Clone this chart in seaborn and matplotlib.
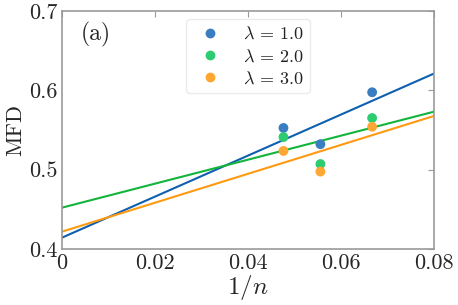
import numpy as np
import pandas as pd
import matplotlib
matplotlib.use("Agg")
import matplotlib.pyplot as plt
import seaborn as sns

# data
inv_n = [1 / 21, 1 / 18, 1 / 15]
mfd_l1 = [0.5525, 0.532, 0.5975]
mfd_l2 = [0.541, 0.507, 0.565]
mfd_l3 = [0.5235, 0.4975, 0.554]
labels = [r"$\lambda \,=\, 1.0$", r"$\lambda \,=\, 2.0$", r"$\lambda \,=\, 3.0$"]
dot_colors = ["#3a7dc0", "#2ecc71", "#ffa733"]
line_colors = ["#0f5fb0", "#12b43c", "#ff9a10"]

df = pd.DataFrame({
    "x": inv_n * 3,
    "y": mfd_l1 + mfd_l2 + mfd_l3,
    "lam": [labels[0]] * 3 + [labels[1]] * 3 + [labels[2]] * 3,
})

sns.set_style("white")
plt.rcParams["font.family"] = ["cmr10"]
plt.rcParams["mathtext.fontset"] = "cm"
plt.rcParams["axes.formatter.use_mathtext"] = True

fig, ax = plt.subplots(figsize=(4.58, 3.05), dpi=100)
ax.set_xlim(0, 0.08)
ax.set_ylim(0.4, 0.7)

# linear fits extended across the axis
for lab, lc in zip(labels, line_colors):
    sub = df[df["lam"] == lab]
    sns.regplot(data=sub, x="x", y="y", ax=ax, scatter=False, ci=None,
                truncate=False, color=lc, line_kws={"lw": 1.5})

sns.scatterplot(data=df, x="x", y="y", hue="lam", palette=dot_colors,
                s=50, edgecolor="none", ax=ax, zorder=3)

ax.set_xlim(0, 0.08)
ax.set_ylim(0.4, 0.7)
ax.set_xticks([0, 0.02, 0.04, 0.06, 0.08])
ax.set_xticklabels(["0", "0.02", "0.04", "0.06", "0.08"])
ax.set_yticks([0.4, 0.5, 0.6, 0.7])
ax.set_yticklabels(["0.4", "0.5", "0.6", "0.7"])
ax.tick_params(direction="in", top=True, right=True, length=4, color="#999999",
               labelsize=16, pad=3)
for sp in ax.spines.values():
    sp.set_color("#999999")
    sp.set_linewidth(1.2)

ax.set_xlabel(r"$1/n$", fontsize=18, labelpad=0)
ax.set_ylabel("MFD", fontsize=16, labelpad=3)
ax.text(0.05, 0.955, "(a)", transform=ax.transAxes, fontsize=17, va="top")

leg = ax.legend(loc="upper center", fontsize=13, frameon=True,
                handletextpad=0.8, borderpad=0.35, labelspacing=0.33,
                handlelength=2.0, borderaxespad=0,
                bbox_to_anchor=(0.5, 0.966))
leg.get_frame().set_edgecolor("#e6e6e6")
for t in leg.get_texts():
    t.set_color("#222222")

fig.subplots_adjust(left=0.135, right=0.948, top=0.964, bottom=0.184)
fig.savefig("out.png", dpi=100)
